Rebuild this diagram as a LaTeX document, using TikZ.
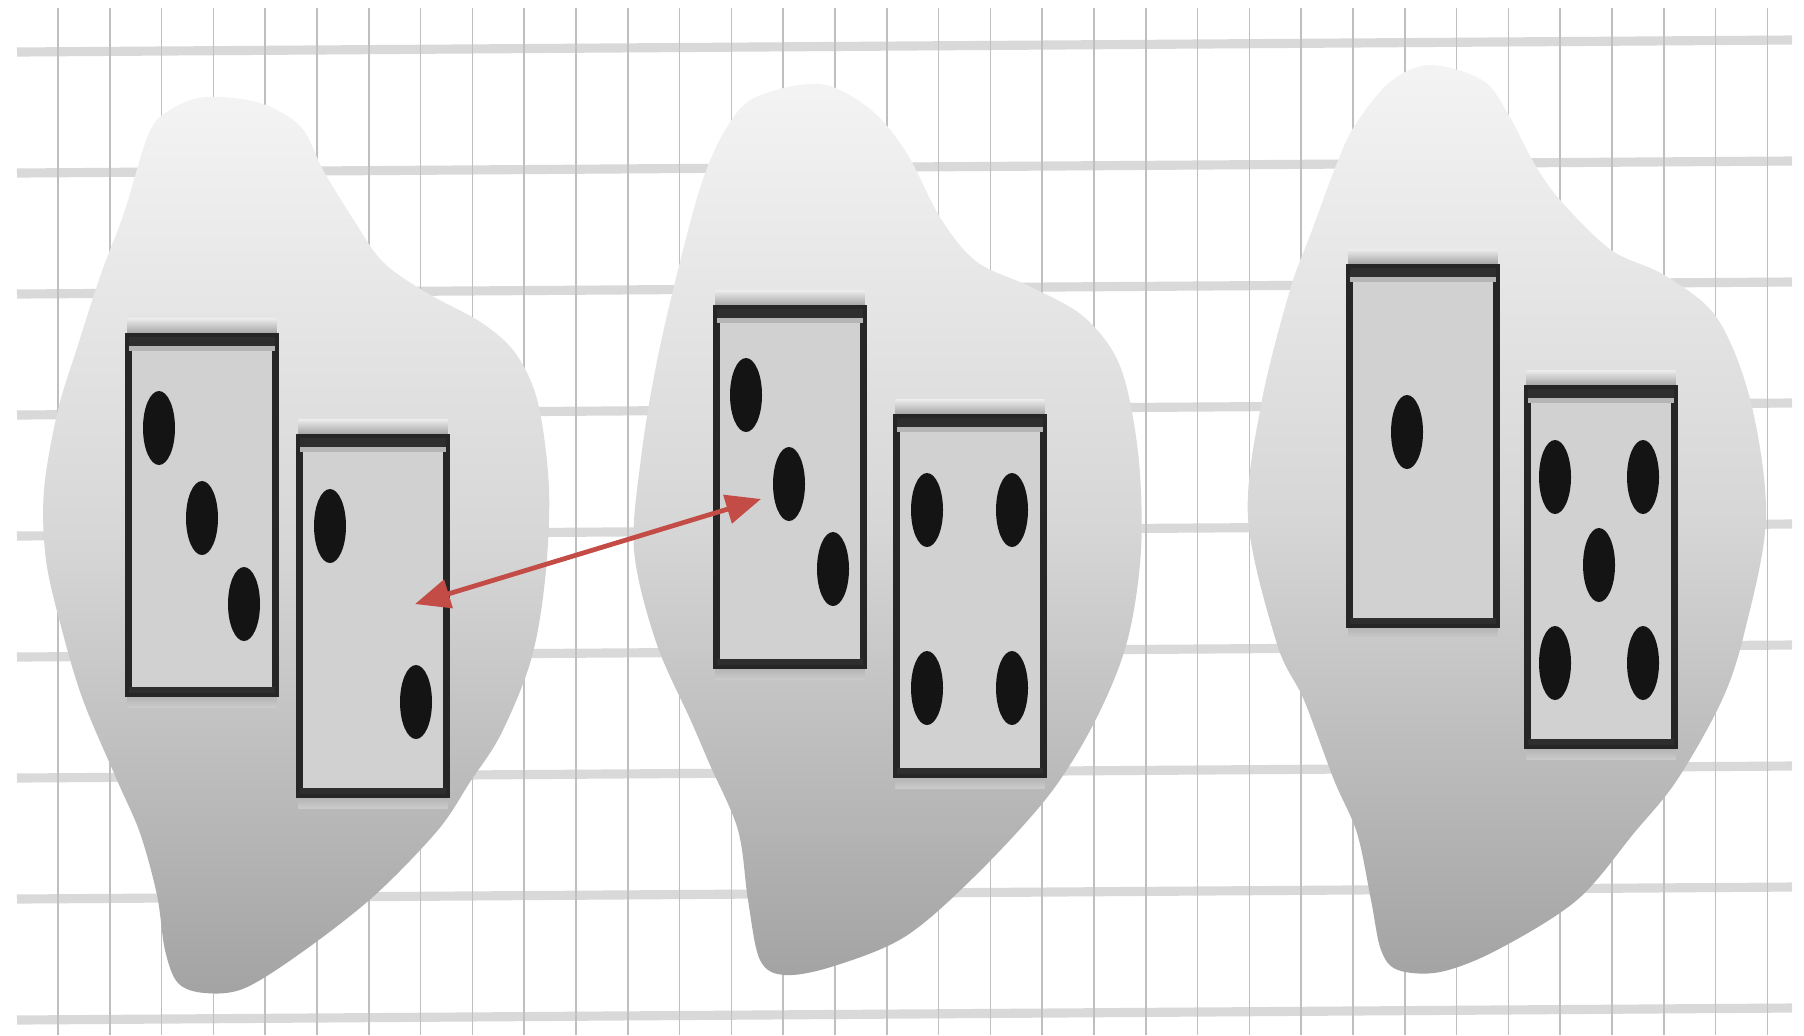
\documentclass[tikz,border=0pt]{standalone}
\usepackage{tikz}
\usepackage{xcolor}
\usetikzlibrary{arrows.meta,calc}

\definecolor{linkred}{RGB}{196,76,70}

\begin{document}
\begin{tikzpicture}[
    x=0.01cm, y=-0.01cm,
    hline/.style={line width=2.6pt, draw=gray!30},
    vline/.style={line width=0.45pt, draw=gray!50},
    blob/.style={top color=gray!9, bottom color=gray!72, middle color=gray!32},
    card/.style={draw=black!85, line width=1.2pt, fill=gray!36, minimum width=1.45cm, minimum height=3.55cm, inner sep=0pt},
    rim/.style={draw=black!85, line width=1.2pt},
    band/.style={fill=black!82},
    pip/.style={fill=black!92},
    link/.style={{Triangle[length=3.5mm,width=2.9mm]}-{Triangle[length=3.5mm,width=2.9mm]}, line width=1.35pt, draw=linkred}
]
% --- Page ---
\useasboundingbox (0,0) rectangle (1804,1035);
\fill[white] (0,0) rectangle (1804,1035);

% --- Grid paper ---
\foreach \k in {0,...,8}
    \draw[hline] (17,{52+121*\k}) -- (1792,{40+121*\k});
\foreach \k in {0,...,33}
    \draw[vline] ({58+51.8*\k},8) -- ({58+51.8*\k},1035);

% --- Blobs ---
\shade[blob] plot[smooth cycle, tension=0.55] coordinates {
    (205,97) (260,103) (301,127) (323,170) (353,219) (383,262) (427,293) (482,323)
    (516,354) (538,403) (549,489) (545,580) (531,660) (501,734) (470,782) (438,830)
    (375,895) (305,950) (245,988) (205,993) (178,983) (165,950) (157,895) (140,833)
    (117,780) (83,700) (62,630) (46,560) (44,490) (58,410) (78,345) (101,274)
    (124,213) (149,133) (170,110)};
\shade[blob] plot[smooth cycle, tension=0.55] coordinates {
    (756,97) (820,84) (870,109) (906,152) (941,219) (977,262) (1031,287) (1084,317)
    (1120,366) (1138,452) (1141,550) (1127,642) (1095,721) (1049,795) (977,874) (906,936)
    (834,966) (785,975) (760,960) (748,900) (738,830) (710,765) (691,721) (656,642)
    (634,550) (641,458) (656,366) (677,274) (702,182) (727,127)};
\shade[blob] plot[smooth cycle, tension=0.55] coordinates {
    (1430,65) (1482,80) (1507,112) (1534,163) (1560,200) (1611,250) (1664,275) (1717,318)
    (1751,403) (1766,518) (1745,630) (1722,700) (1677,780) (1634,833) (1577,900) (1497,950)
    (1440,972) (1398,970) (1381,950) (1371,900) (1357,833) (1334,780) (1304,700) (1277,644)
    (1248,518) (1262,400) (1290,290) (1311,233) (1337,163) (1355,125) (1390,82)};

% --- Cards ---
\node[card] (cardA) at (202,515) {};
\node[card] (cardB) at (373,616) {};
\node[card] (cardC) at (790,487) {};
\node[card] (cardD) at (970,596) {};
\node[card] (cardE) at (1423,446) {};
\node[card] (cardF) at (1601,567) {};

\foreach \c in {cardA,cardB,cardC,cardD,cardE,cardF}{
    \shade[top color=gray!15, bottom color=gray!78] ([yshift=0.17cm]\c.north west) rectangle (\c.north east);
    \shade[top color=gray!62, bottom color=gray!40] (\c.south west) rectangle ([yshift=-0.13cm]\c.south east);
    \fill[gray!58] ([yshift=-0.1cm]\c.north west) rectangle ([yshift=-0.16cm]\c.north east);
    \fill[band] (\c.north west) rectangle ([yshift=-0.11cm]\c.north east);
    \fill[band] (\c.south west) rectangle ([yshift=0.08cm]\c.south east);
    \draw[rim] (\c.north west) rectangle (\c.south east);
}

% --- Pips ---
\foreach \px/\py in {159/428, 202/518, 244/604,
                     330/526, 416/702,
                     746/395, 789/484, 833/569,
                     927/510, 1012/510, 927/688, 1012/688,
                     1407/432,
                     1555/477, 1643/477, 1599/565, 1555/663, 1643/663}
    \fill[pip] (\px,\py) ellipse (16 and 37);

% --- Swap arrow ---
\coordinate (endB) at (415,604);
\coordinate (endC) at (761,499);
\draw[link] (endB) -- (endC);
\end{tikzpicture}
\end{document}
